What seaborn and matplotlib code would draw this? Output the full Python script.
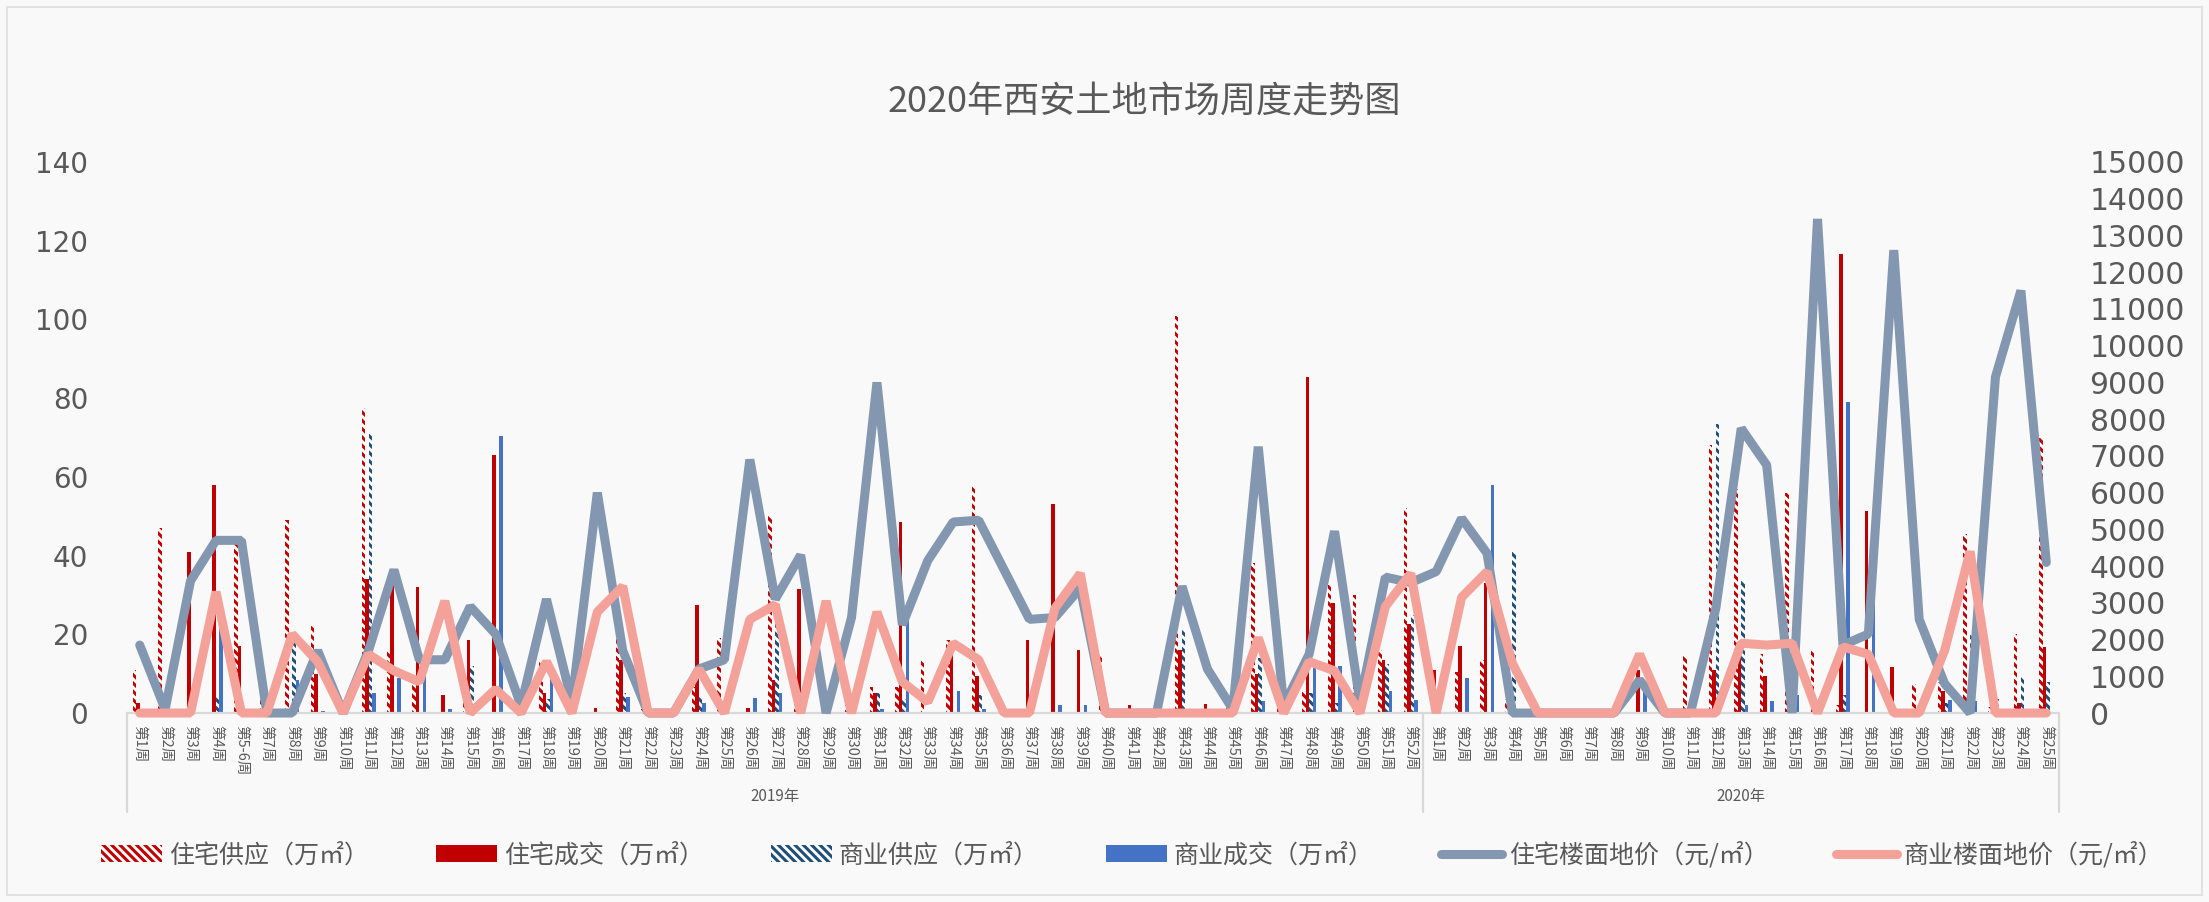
import matplotlib.pyplot as plt
import numpy as np
import pandas as pd
import seaborn as sns
from matplotlib.lines import Line2D
from matplotlib.patches import Patch, Rectangle

title = "2020年西安土地市场周度走势图"

weeks_2019 = ["第1周", "第2周", "第3周", "第4周", "第5-6周"] + [f"第{i}周" for i in range(7, 53)]
weeks_2020 = [f"第{i}周" for i in range(1, 26)]
weeks = weeks_2019 + weeks_2020

# bars, left axis (万㎡)
res_supply = [11, 47, 0, 0, 43, 7.5, 49, 22, 0, 77.5,
              16, 8.5, 0, 3.5, 0, 0, 13, 0, 0, 23,
              1, 0, 6.5, 19, 0, 50, 2.5, 0, 2, 6.5,
              6.5, 13.5, 18.5, 58, 3, 0, 0, 0, 15, 0,
              0, 101, 0, 1.5, 38, 2.5, 5.5, 32.5, 30, 16,
              52,
              0, 10.5, 13.5, 3.5, 0, 0, 0, 0, 0, 0,
              14.5, 68, 57, 15, 56, 16, 2, 0, 0, 7.5,
              8, 45.5, 1.5, 20, 70]
res_deal = [2.5, 0, 41, 58, 17, 0, 0, 10, 0, 34,
            33, 32, 4.5, 18.5, 65.5, 0, 5, 0, 1.3, 13.5,
            0, 1, 27.5, 0, 1.3, 8.5, 31.5, 0, 0, 5,
            48.5, 0, 17, 9.5, 0, 18.5, 53, 16, 0, 2,
            0, 16, 2.3, 0, 10, 0, 85.5, 28, 0, 13.5,
            22.5,
            11, 17, 33, 0, 0, 0, 0, 0, 11, 0,
            0, 11, 15, 9.3, 0, 0, 116.5, 51.3, 11.8, 0,
            5.7, 0, 0, 2.6, 16.8]
com_supply = [0, 0, 0, 4, 2, 0, 18, 0, 0, 71,
              0, 0, 0, 12, 0, 0, 3.5, 0, 0, 5,
              0, 0, 4, 0, 0, 24, 0, 0, 0, 5,
              3.5, 0, 0, 4.5, 0, 0, 0, 0, 0, 0,
              0, 21, 0, 0, 14, 0, 5, 2.5, 0, 12.5,
              25,
              0, 0, 0, 41, 0, 0, 0, 0, 0, 0,
              0, 73.5, 33.5, 0, 0, 0, 4.5, 0, 0, 0,
              2.5, 20.5, 3.5, 9.5, 8]
com_deal = [0, 0, 0, 21.5, 1, 0, 8.5, 0.5, 0, 5,
            9, 9.5, 1, 0, 70.5, 0, 12, 0, 0.3, 4,
            0, 0, 2.5, 0, 3.8, 5, 0, 0, 0, 1,
            28, 0.3, 5.5, 1, 0, 0, 2, 2, 0, 0,
            0, 0, 0, 0, 3, 0, 11.5, 12, 0, 5.5,
            3.3,
            0, 8.8, 58, 0, 0, 0, 0, 0, 5.7, 0,
            0, 0, 2, 3, 4.5, 0, 79, 32, 0, 0,
            3.3, 3, 0, 0, 0]

# lines, right axis (元/㎡)
res_price = [1850, 100, 3600, 4700, 4700, 0, 0, 1700, 0, 1700,
             3900, 1450, 1450, 2900, 2150, 200, 3100, 300, 6000, 1700,
             0, 0, 1200, 1450, 6900, 3100, 4300, 0, 2600, 9000,
             2400, 4150, 5200, 5250, 3900, 2550, 2600, 3400, 0, 0,
             0, 3450, 1200, 100, 7250, 200, 1600, 4950, 300, 3700,
             3550,
             3850, 5300, 4350, 0, 0, 0, 0, 0, 900, 0,
             0, 2850, 7750, 6750, 0, 13450, 1850, 2150, 12600, 2550,
             800, 0, 9150, 11500, 4100]
com_price = [0, 0, 0, 3300, 0, 0, 2150, 1400, 0, 1600,
             1150, 850, 3050, 0, 650, 0, 1400, 0, 2750, 3450,
             0, 0, 1200, 0, 2550, 2950, 0, 3050, 0, 2750,
             850, 300, 1900, 1450, 0, 0, 2850, 3800, 0, 0,
             0, 0, 0, 0, 2050, 0, 1400, 1150, 0, 2900,
             3800,
             0, 3150, 3850, 1350, 0, 0, 0, 0, 1600, 0,
             0, 0, 1900, 1850, 1900, 0, 1800, 1600, 0, 0,
             1700, 4400, 0, 0, 0]

bar_names = ["住宅供应（万㎡）", "住宅成交（万㎡）", "商业供应（万㎡）", "商业成交（万㎡）"]
bar_colors = ["#c00000", "#c00000", "#1f4e79", "#4472c4"]
bar_hatched = [True, False, True, False]
line_names = ["住宅楼面地价（元/㎡）", "商业楼面地价（元/㎡）"]
line_colors = ["#8497b0", "#f4a199"]

BG = "#f9f9f9"
TXT = "#595959"
GRID = "#d9d9d9"
HATCH = "\\\\\\\\"

sns.set_style("white")
plt.rcParams["font.family"] = ["Noto Sans CJK SC", "DejaVu Sans"]
plt.rcParams["hatch.linewidth"] = 2.2

idx = np.arange(len(weeks))
df = pd.DataFrame({"idx": idx, bar_names[0]: res_supply, bar_names[1]: res_deal,
                   bar_names[2]: com_supply, bar_names[3]: com_deal})
df_long = df.melt(id_vars="idx", var_name="类型", value_name="面积")

fig = plt.figure(figsize=(22.09, 9.02), dpi=100, facecolor=BG)
ax = fig.add_axes([0.0575, 0.2095, 0.8746, 0.6109])
ax.set_facecolor(BG)

sns.barplot(data=df_long, x="idx", y="面积", hue="类型", hue_order=bar_names,
            palette=bar_colors, width=0.55, saturation=1, linewidth=0,
            errorbar=None, legend=False, ax=ax)

for cont, col, hatched in zip(ax.containers, bar_colors, bar_hatched):
    if hatched:
        for p in cont:
            p.set_facecolor("white")
            p.set_edgecolor(col)
            p.set_hatch(HATCH)
            p.set_linewidth(0)

ax2 = ax.twinx()
sns.lineplot(x=idx, y=res_price, ax=ax2, color=line_colors[0], linewidth=6.5,
             solid_joinstyle="bevel", clip_on=False)
sns.lineplot(x=idx, y=com_price, ax=ax2, color=line_colors[1], linewidth=6.5,
             solid_joinstyle="bevel", clip_on=False)

ax.set_xlim(-0.5, len(weeks) - 0.5)
ax.set_ylim(0, 140)
ax.set_yticks(range(0, 141, 20))
ax2.set_ylim(0, 15000)
ax2.set_yticks(range(0, 15001, 1000))

ax.set_xticks(idx)
ax.set_xticklabels(weeks, rotation=270, fontsize=10.5, color=TXT)
ax.tick_params(axis="x", length=0, pad=8.5)
ax.tick_params(axis="y", length=0, pad=28, labelsize=20, labelcolor=TXT)
ax2.tick_params(axis="y", length=0, pad=22, labelsize=21.5, labelcolor=TXT)
for lbl in ax.get_yticklabels() + ax2.get_yticklabels():
    lbl.set_fontfamily("DejaVu Sans")

for a in (ax, ax2):
    a.set_xlabel("")
    a.set_ylabel("")
    for s in a.spines.values():
        s.set_visible(False)
ax.spines["bottom"].set_visible(True)
ax.spines["bottom"].set_color(GRID)
ax.spines["bottom"].set_linewidth(1.6)

# two-level category axis: separators and year labels
trans = ax.get_xaxis_transform()
n19 = len(weeks_2019)
for xs in [-0.5, n19 - 0.5, len(weeks) - 0.5]:
    ax.plot([xs, xs], [0, -0.18], transform=trans, color=GRID, lw=1.6, clip_on=False)
ax.text((n19 - 1) / 2, -0.152, "2019年", transform=trans, ha="center", va="center",
        fontsize=11, color=TXT)
ax.text(n19 + (len(weeks_2020) - 1) / 2, -0.152, "2020年", transform=trans,
        ha="center", va="center", fontsize=11, color=TXT)

fig.text(0.518, 0.886, title, ha="center", va="center", fontsize=26, color=TXT)

handles = []
for col, hatched in zip(bar_colors, bar_hatched):
    if hatched:
        handles.append(Patch(facecolor="white", edgecolor=col, hatch=HATCH, linewidth=0))
    else:
        handles.append(Patch(facecolor=col, linewidth=0))
for col in line_colors:
    handles.append(Line2D([0], [0], color=col, lw=6.5, solid_capstyle="round"))
fig.legend(handles, bar_names + line_names, loc="center", bbox_to_anchor=(0.5125, 0.052),
           ncol=6, frameon=False, fontsize=18, handlelength=2.44, handleheight=0.7,
           handletextpad=0.28, columnspacing=2.68, labelcolor=TXT)

fig.add_artist(Rectangle((7 / 2209, 7 / 902), 1 - 14 / 2209, 1 - 14 / 902,
                         transform=fig.transFigure, fill=False, edgecolor="#e2e2e2", lw=1.5))

fig.savefig("out.png", dpi=100, facecolor=BG)
